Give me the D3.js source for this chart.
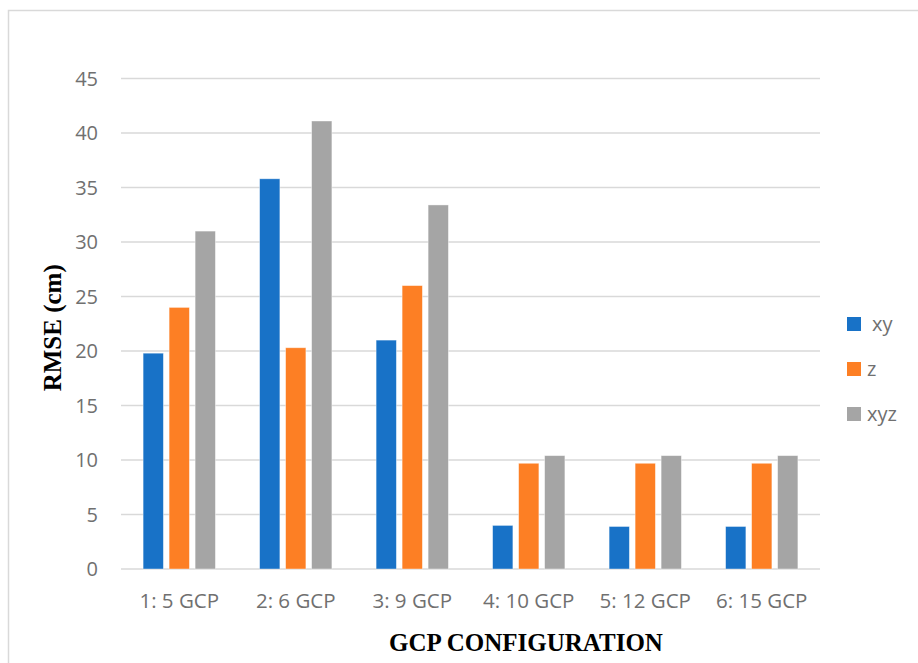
<!DOCTYPE html>
<html>
<head>
<meta charset="utf-8">
<script src="https://cdn.jsdelivr.net/npm/d3@7"></script>
<style>
  body { margin: 0; background: #fff; }
</style>
</head>
<body>
<script>
// data
var categories = ["1: 5 GCP", "2: 6 GCP", "3: 9 GCP", "4: 10 GCP", "5: 12 GCP", "6: 15 GCP"];
var seriesNames = ["xy", "z", "xyz"];
var xyValues = [19.8, 35.8, 21.0, 4.0, 3.9, 3.9];
var zValues = [24.0, 20.3, 26.0, 9.7, 9.7, 9.7];
var xyzValues = [31.0, 41.1, 33.4, 10.4, 10.4, 10.4];
var yTicks = [0, 5, 10, 15, 20, 25, 30, 35, 40, 45];

var colors = { xy: "#1872c7", z: "#fd7f24", xyz: "#a5a5a5" };

var W = 918, H = 663;
var plot = { left: 121, right: 820, top: 78.5, bottom: 569 };

var svg = d3.select("body").append("svg")
  .attr("width", W)
  .attr("height", H);

// outer frame
svg.append("rect")
  .attr("x", 8.5).attr("y", 10.5)
  .attr("width", W + 20).attr("height", H + 20)
  .attr("fill", "none")
  .attr("stroke", "#d9d9d9")
  .attr("stroke-width", 1.5);

var yScale = d3.scaleLinear()
  .domain([0, 45])
  .range([plot.bottom, plot.top]);

var x0 = d3.scaleBand()
  .domain(categories)
  .range([plot.left, plot.right]);

var x1 = d3.scaleBand()
  .domain(seriesNames)
  .range([0, x0.bandwidth()])
  .paddingInner(0.22)
  .paddingOuter(0.85);

// gridlines
svg.append("g")
  .selectAll("line")
  .data(yTicks)
  .enter()
  .append("line")
  .attr("x1", plot.left)
  .attr("x2", plot.right)
  .attr("y1", function(d){ return yScale(d); })
  .attr("y2", function(d){ return yScale(d); })
  .attr("stroke", "#d9d9d9")
  .attr("stroke-width", 1.5);

// y tick labels
svg.append("g")
  .selectAll("text")
  .data(yTicks)
  .enter()
  .append("text")
  .attr("x", 98)
  .attr("y", function(d){ return yScale(d); })
  .attr("dy", "0.36em")
  .attr("text-anchor", "end")
  .attr("font-family", "Open Sans")
  .attr("font-size", 20)
  .attr("fill", "#707070")
  .text(function(d){ return d; });

// bars
var rows = categories.map(function(c, i){
  return { cat: c, xy: xyValues[i], z: zValues[i], xyz: xyzValues[i] };
});

var groups = svg.append("g")
  .selectAll("g")
  .data(rows)
  .enter()
  .append("g")
  .attr("transform", function(d){ return "translate(" + x0(d.cat) + ",0)"; });

groups.selectAll("rect")
  .data(function(d){ return seriesNames.map(function(s){ return { key: s, value: d[s] }; }); })
  .enter()
  .append("rect")
  .attr("x", function(d){ return x1(d.key); })
  .attr("y", function(d){ return yScale(d.value); })
  .attr("width", x1.bandwidth())
  .attr("height", function(d){ return yScale(0) - yScale(d.value); })
  .attr("fill", function(d){ return colors[d.key]; })
  .attr("stroke", "#ffffff")
  .attr("stroke-opacity", 0.5)
  .attr("stroke-width", 0.8);

// x tick labels
svg.append("g")
  .selectAll("text")
  .data(categories)
  .enter()
  .append("text")
  .attr("x", function(d){ return x0(d) + x0.bandwidth() / 2; })
  .attr("y", 608)
  .attr("text-anchor", "middle")
  .attr("font-family", "Open Sans")
  .attr("font-size", 20.5)
  .attr("fill", "#707070")
  .text(function(d){ return d; });

// axis titles
svg.append("text")
  .attr("transform", "translate(61," + ((plot.top + plot.bottom) / 2 + 4) + ") rotate(-90)")
  .attr("text-anchor", "middle")
  .attr("font-family", "Liberation Serif")
  .attr("font-weight", "bold")
  .attr("font-size", 25)
  .attr("fill", "#000")
  .text("RMSE (cm)");

svg.append("text")
  .attr("x", 526)
  .attr("y", 651)
  .attr("text-anchor", "middle")
  .attr("font-family", "Liberation Serif")
  .attr("font-weight", "bold")
  .attr("font-size", 25)
  .attr("fill", "#000")
  .text("GCP CONFIGURATION");

// legend
var legend = svg.append("g")
  .selectAll("g")
  .data(seriesNames)
  .enter()
  .append("g")
  .attr("transform", function(d, i){ return "translate(847," + (317 + i * 45) + ")"; });

legend.append("rect")
  .attr("width", 14)
  .attr("height", 14)
  .attr("fill", function(d){ return colors[d]; });

legend.append("text")
  .attr("x", function(d){ return d == "xy" ? 25 : 20; })
  .attr("y", 7)
  .attr("dy", "0.36em")
  .attr("font-family", "Open Sans")
  .attr("font-size", 20)
  .attr("fill", "#707070")
  .text(function(d){ return d; });
</script>
</body>
</html>
